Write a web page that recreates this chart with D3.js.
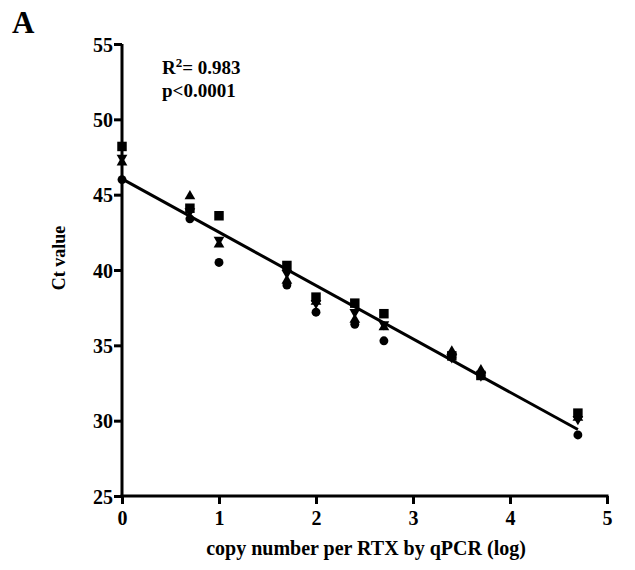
<!DOCTYPE html>
<html>
<head>
<meta charset="utf-8">
<script src="https://cdn.jsdelivr.net/npm/d3@7"></script>
<style>
html,body{margin:0;padding:0;background:#fff;}
text{font-family:"Liberation Serif","Times New Roman",serif;font-weight:bold;fill:#000;}
</style>
</head>
<body>
<svg id="chart" width="635" height="570"></svg>
<script>
// ---- data ----
const xValues = [0, 0.7, 1, 1.7, 2, 2.4, 2.7, 3.4, 3.7, 4.7];
const squareSeries   = [48.2, 44.1, 43.6, 40.3, 38.2, 37.8, 37.1, 34.3, 33.0, 30.5];
const triUpSeries    = [47.15, 44.9, 41.7, 39.3, 37.9, 36.7, 36.2, 34.6, 33.35, 30.2];
const triDownSeries  = [47.45, 43.9, 42.0, 39.8, 37.8, 37.2, 36.4, 34.2, 33.0, 30.1];
const circleSeries   = [46.0, 43.4, 40.5, 39.0, 37.2, 36.4, 35.3, 34.2, 33.0, 29.05];
const fitIntercept = 46.05;
const fitSlope = -3.54;
const fitRange = [0, 4.7];
const xTicks = [0, 1, 2, 3, 4, 5];
const yTicks = [25, 30, 35, 40, 45, 50, 55];
const statLines = ["= 0.983", "p<0.0001"];

// ---- layout ----
const svg = d3.select("#chart");
const x = d3.scaleLinear().domain([0, 5]).range([122, 607]);
const y = d3.scaleLinear().domain([25, 55]).range([496, 44]);

// axes
const xAxis = d3.axisBottom(x).tickValues(xTicks).tickFormat(d3.format("d")).tickSizeOuter(0).tickSize(8).tickPadding(7);
const yAxis = d3.axisLeft(y).tickValues(yTicks).tickFormat(d3.format("d")).tickSizeOuter(0).tickSize(8).tickPadding(1);

const gx = svg.append("g").attr("transform", `translate(0,${y(25)})`).call(xAxis);
const gy = svg.append("g").attr("transform", `translate(${x(0)},0)`).call(yAxis);
[gx, gy].forEach(g => {
  g.select(".domain").attr("stroke", "#000").attr("stroke-width", 3);
  g.selectAll(".tick line").attr("stroke", "#000").attr("stroke-width", 3);
  g.selectAll(".tick text").style("font-family", '"Liberation Serif",serif').style("font-weight", "bold").style("font-size", "20px").attr("fill", "#000");
});
gx.select(".domain").attr("d", `M${x(0)-1.5},0H${x(5)+1.5}`);
gy.select(".domain").attr("d", `M0,${y(55)}V${y(25)+1.5}`);
gy.selectAll(".tick text").attr("dy", "0.36em");

// regression line
svg.append("line")
  .attr("x1", x(fitRange[0])).attr("y1", y(fitIntercept + fitSlope * fitRange[0]))
  .attr("x2", x(fitRange[1])).attr("y2", y(fitIntercept + fitSlope * fitRange[1]))
  .attr("stroke", "#000").attr("stroke-width", 3);

// points
const seriesDefs = [
  {vals: squareSeries, type: d3.symbolSquare, size: 90, rot: 0},
  {vals: triUpSeries, type: d3.symbolTriangle, size: 50, rot: 0},
  {vals: triDownSeries, type: d3.symbolTriangle, size: 50, rot: 180},
  {vals: circleSeries, type: d3.symbolCircle, size: 62, rot: 0}
];
seriesDefs.forEach(s => {
  svg.append("g").selectAll("path")
    .data(s.vals.map((v, i) => [xValues[i], v]))
    .join("path")
    .attr("d", d3.symbol().type(s.type).size(s.size))
    .attr("transform", d => `translate(${x(d[0])},${y(d[1])}) rotate(${s.rot})`)
    .attr("fill", "#000");
});

// labels
svg.append("text").attr("x", 12).attr("y", 33).style("font-size", "31px").text("A");

const t1 = svg.append("text").attr("x", 162).attr("y", 74).style("font-size", "19px");
t1.append("tspan").text("R");
t1.append("tspan").attr("dy", -7).style("font-size", "13px").text("2");
t1.append("tspan").attr("dy", 7).text(statLines[0]);
svg.append("text").attr("x", 162).attr("y", 97).style("font-size", "19px").text(statLines[1]);

svg.append("text")
  .attr("transform", `translate(65,258) rotate(-90)`)
  .attr("text-anchor", "middle").style("font-size", "18px").text("Ct value");

svg.append("text")
  .attr("x", 366).attr("y", 555).attr("text-anchor", "middle")
  .style("font-size", "20px").text("copy number per RTX by qPCR (log)");
</script>
</body>
</html>
